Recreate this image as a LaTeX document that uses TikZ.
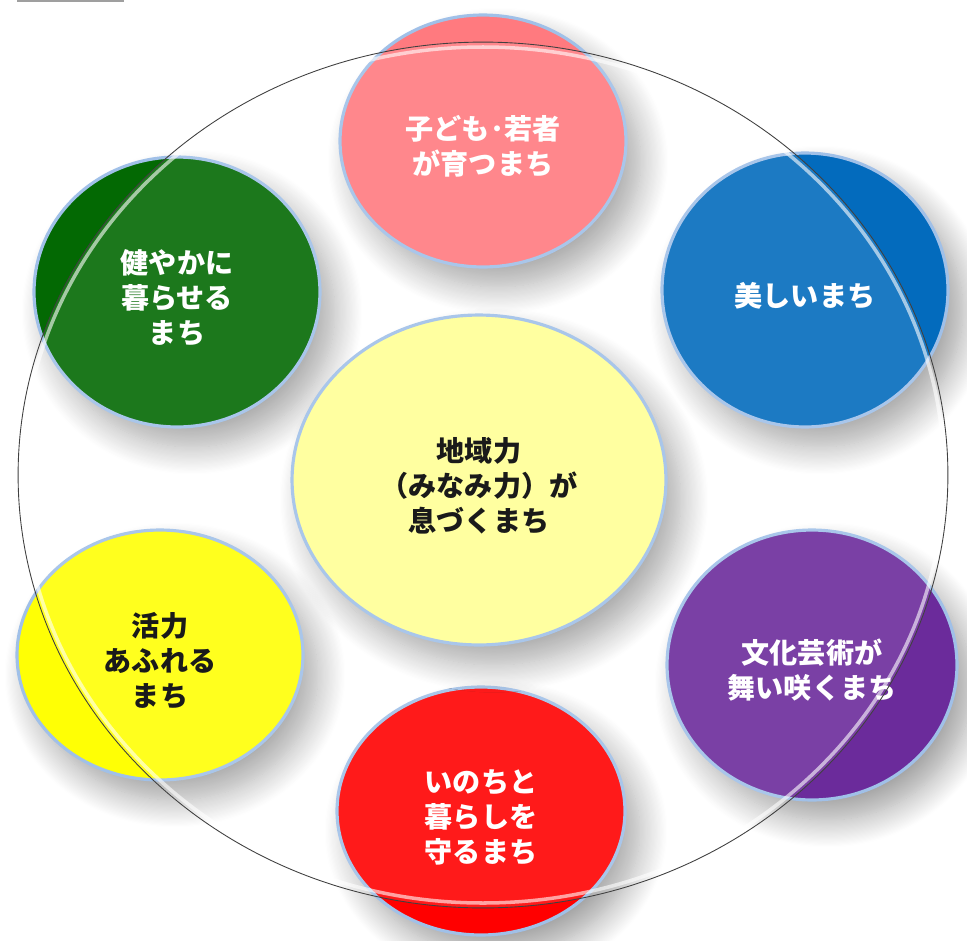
\documentclass[tikz,border=0pt]{standalone}
\usepackage{fontspec}
\newfontfamily\jpfont{Noto Sans CJK JP}
\usepackage{xcolor}
\usetikzlibrary{shapes.geometric, shadows.blur}

\definecolor{glow}{RGB}{160,192,232}
\definecolor{kodomo}{RGB}{255,122,127}
\definecolor{utsukushii}{RGB}{3,107,189}
\definecolor{sukoyaka}{RGB}{3,105,3}
\definecolor{chiiki}{RGB}{255,255,150}
\definecolor{katsuryoku}{RGB}{255,255,5}
\definecolor{bunka}{RGB}{107,43,155}
\definecolor{inochi}{RGB}{255,0,0}

\newcommand{\sage}{\rule{0pt}{0.7cm}}

\begin{document}
\begin{tikzpicture}[x=0.02cm, y=-0.02cm,
  machi/.style={ellipse, inner sep=0pt, draw=glow, line width=1.8pt, align=center,
    font=\jpfont\bfseries\fontsize{16}{20}\selectfont,
    blur shadow={shadow xshift=0.3cm, shadow yshift=-0.4cm, shadow blur radius=0.55cm,
      shadow blur steps=24, shadow opacity=38}},
  shiro/.style={text=white},
  kuro/.style={text=black}]

\useasboundingbox (0,0) rectangle (967,940);

\fill[gray!75] (17,0) rectangle (124,2);

\node[machi, shiro, fill=kodomo, minimum width=5.72cm, minimum height=5.04cm] (kodomo) at (483,141) {\sage 子ども･若者\\が育つまち};

\node[machi, shiro, fill=utsukushii, minimum width=5.72cm, minimum height=5.48cm] (utsukushii) at (805,290) {\sage 美しいまち};

\node[machi, shiro, fill=sukoyaka, minimum width=5.72cm, minimum height=5.40cm] (sukoyaka) at (177,292) {\sage 健やかに\\暮らせる\\まち};

\node[machi, kuro, fill=katsuryoku, minimum width=5.72cm, minimum height=5.00cm] (katsuryoku) at (160,655) {\sage 活力\\あふれる\\まち};

\node[machi, shiro, fill=bunka, minimum width=5.80cm, minimum height=5.40cm] (bunka) at (812,665) {\sage 文化芸術が\\舞い咲くまち};

\node[machi, shiro, fill=inochi, minimum width=5.76cm, minimum height=4.96cm] (inochi) at (481,811) {\sage いのちと\\暮らしを\\守るまち};

\node[machi, kuro, fill=chiiki, minimum width=7.48cm, minimum height=6.60cm] (chiiki) at (479,480) {\sage 地域力\\（みなみ力）が\\息づくまち};

\node[ellipse, draw=black!75, line width=0.5pt, fill=white, fill opacity=0.1, minimum width=18.6cm, minimum height=17.32cm] (wa) at (483,475) {};
\draw[white, line width=2pt, opacity=0.6] (483,475) ellipse [x radius=461, y radius=428];

\end{tikzpicture}
\end{document}
